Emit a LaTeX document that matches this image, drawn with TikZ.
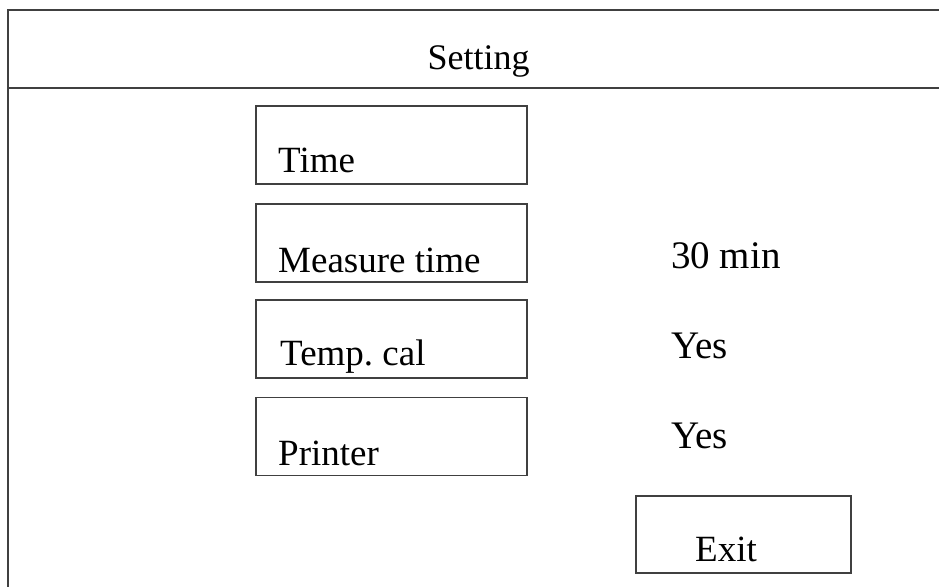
\documentclass[tikz,border=0pt]{standalone}
\usepackage{fontspec}
\setmainfont{Liberation Serif}
\frenchspacing
\begin{document}
\begin{tikzpicture}[x=1pt,y=-1pt,
  frame/.style={draw=black!75,line width=1.8pt},
  box/.style={draw=black!75,line width=1.8pt,rectangle,inner sep=0pt,
    minimum width=271pt,minimum height=78pt},
  lbl/.style={anchor=base west,inner sep=0pt,font=\fontsize{37}{42}\selectfont},
  val/.style={anchor=base west,inner sep=0pt,font=\fontsize{39}{44}\selectfont}]
\useasboundingbox (0,0) rectangle (939,587);
\draw[frame] (939,10) -- (8,10) -- (8,587);
\draw[frame] (8,88) -- (939,88);
\node[anchor=base,inner sep=0pt,font=\fontsize{36}{40}\selectfont] (title) at (478.5,69) {Setting};
\node[box] (time) at (391.5,145) {};
\node[box] (meas) at (391.5,243) {};
\node[box] (temp) at (391.5,339) {};
\node[box] (prnt) at (391.5,436.5) {};
\node[box,minimum width=215pt,minimum height=77pt] (exit) at (743.5,534.5) {};
\node[lbl] (ttime) at (278,172) {Time};
\node[lbl] (tmeas) at (278,272) {Measure time};
\node[lbl] (ttemp) at (280,365) {Temp. cal};
\node[lbl] (tprnt) at (278,465) {Printer};
\node[lbl] (texit) at (695,561) {Exit};
\node[val] (vmeas) at (671,268) {30 min};
\node[val] (vtemp) at (671,358) {Yes};
\node[val] (vprnt) at (671,448) {Yes};
\end{tikzpicture}
\end{document}
